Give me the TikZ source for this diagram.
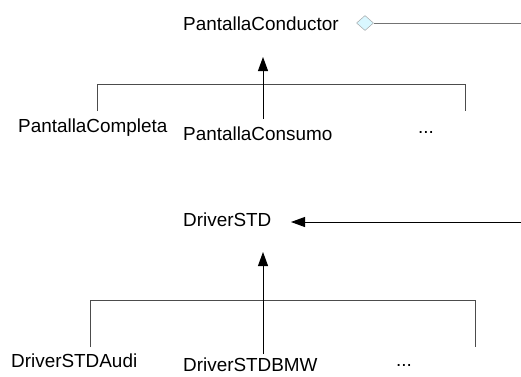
\documentclass[tikz,border=0pt]{standalone}
\usepackage{fontspec}
\setmainfont{Liberation Sans}
\usetikzlibrary{arrows.meta,shapes.geometric}

\tikzset{
  clase/.style={inner sep=0pt, anchor=base west, font=\fontsize{18.9}{22}\selectfont},
  rama/.style={draw=black!70, line width=0.8pt},
  hereda/.style={-{Triangle[length=14pt,width=10pt]}, line width=0.9pt},
  rombo/.style={diamond, draw=black!40, fill=blue!20!cyan!15, minimum width=17pt, minimum height=15pt, inner sep=0pt},
}

\begin{document}
\begin{tikzpicture}[x=1pt,y=-1pt]
\useasboundingbox[fill=white] (0,0) rectangle (521,376);

\node[clase] (conductor) at (183,30) {PantallaConductor};
\node[rombo] (agrega) at (365,23) {};
\coordinate (agrega-fin) at (521,23);
\draw[draw=black!55, line width=0.8pt] (agrega.east) -- (agrega-fin);

\node[clase] (completa) at (18,132) {PantallaCompleta};
\node[clase] (consumo) at (183,140) {PantallaConsumo};
\node[clase] (otras1) at (418,133) {...};

\coordinate (c-tip) at (263,57);
\coordinate (c-foot) at (263,119);
\coordinate (c-left) at (97,111);
\coordinate (c-right) at (465,111);
\draw[rama] (c-left) -- ++(0,-27) -| (c-right);
\draw[hereda] (c-foot) -- (c-tip);

\node[clase] (driver) at (183,226) {DriverSTD};
\coordinate (d-from) at (521,222);
\coordinate (d-tip) at (291,222);
\draw[hereda] (d-from) -- (d-tip);

\node[clase] (audi) at (11,367) {DriverSTDAudi};
\node[clase] (bmw) at (183,371.5) {DriverSTDBMW};
\node[clase] (otras2) at (396,366) {...};

\coordinate (s-tip) at (263,252);
\coordinate (s-foot) at (263,354);
\coordinate (s-left) at (90,347);
\coordinate (s-right) at (475,347);
\draw[rama] (s-left) -- ++(0,-47) -| (s-right);
\draw[hereda] (s-foot) -- (s-tip);
\end{tikzpicture}
\end{document}
